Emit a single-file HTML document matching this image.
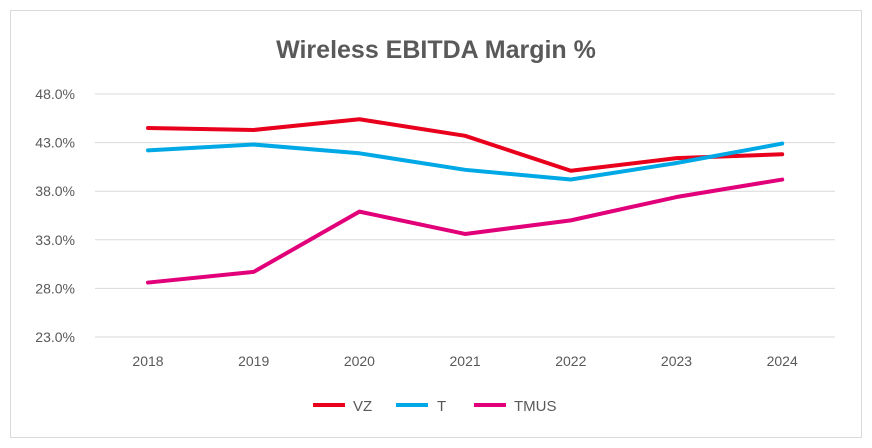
<!DOCTYPE html>
<html><head><meta charset="utf-8"><style>
body{margin:0;background:#fff;font-family:"Liberation Sans",sans-serif}
svg{display:block}
</style></head><body>
<svg width="872" height="448">
<rect x="10.5" y="10.5" width="851" height="427" fill="#fff" stroke="#d9d9d9"/>
<text x="436" y="58" text-anchor="middle" font-size="25" font-weight="bold" fill="#595959">Wireless EBITDA Margin %</text>
<g id="grid"></g><g id="ylab"></g><g id="xlab"></g><g id="lines"></g>
<g>
<line x1="313" y1="405" x2="345" y2="405" stroke="#e8001c" stroke-width="4"/>
<text x="353" y="411" font-size="15" fill="#595959">VZ</text>
<line x1="396" y1="405" x2="428" y2="405" stroke="#00a9e6" stroke-width="4"/>
<text x="437" y="411" font-size="15" fill="#595959">T</text>
<line x1="474" y1="405" x2="506" y2="405" stroke="#e2007a" stroke-width="4"/>
<text x="514" y="411" font-size="15" fill="#595959">TMUS</text>
</g>
</svg>
<script>
const years=["2018","2019","2020","2021","2022","2023","2024"];
const vz=[44.5,44.3,45.4,43.7,40.1,41.4,41.8];
const t=[42.2,42.8,41.9,40.2,39.2,40.9,42.9];
const tmus=[28.6,29.7,35.9,33.6,35.0,37.4,39.2];
const yTicks=[23,28,33,38,43,48];
const NS="http://www.w3.org/2000/svg";
function y(v){return 337-(v-23)*(243/25);}
function x(i){return 148+i*105.7;}
function mk(tag,attrs,parent){const e=document.createElementNS(NS,tag);for(const k in attrs)e.setAttribute(k,attrs[k]);document.getElementById(parent).appendChild(e);return e;}
yTicks.forEach(v=>{
 const g=mk('line',{x1:95,x2:835,y1:y(v),y2:y(v),stroke:'#d9d9d9','stroke-width':1},'grid');
 
 
 const l=mk('text',{x:75,y:y(v)+5,'text-anchor':'end','font-size':14,fill:'#595959'},'ylab');
 l.textContent=v.toFixed(1)+'%';
 
 
});
years.forEach((yr,i)=>{
 const l=mk('text',{x:x(i),y:366,'text-anchor':'middle','font-size':14,fill:'#595959'},'xlab');
 l.textContent=yr;
 
 
});
[[vz,'#e8001c','vz-line'],[t,'#00a9e6','t-line'],[tmus,'#e2007a','tmus-line']].forEach(([d,c,n])=>{
 const p=mk('polyline',{points:d.map((v,i)=>x(i)+','+y(v)).join(' '),fill:'none',stroke:c,'stroke-width':4,'stroke-linejoin':'round','stroke-linecap':'round'},'lines');
 
 
});
</script>
</body></html>
